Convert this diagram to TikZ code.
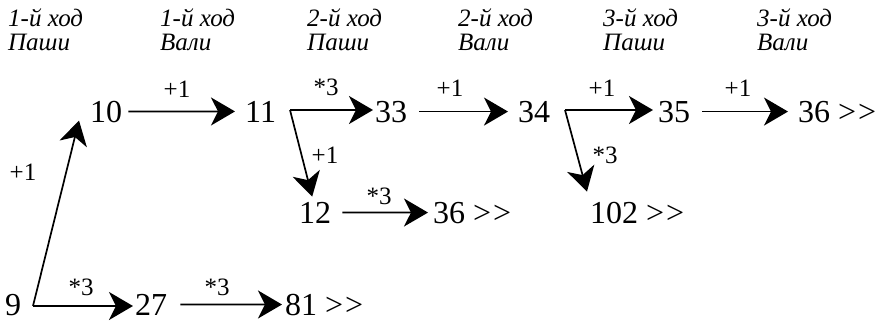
\documentclass[tikz,border=0pt]{standalone}
\usepackage{fontspec}
\setmainfont{Liberation Serif}
\usetikzlibrary{arrows.meta,calc}
\begin{document}
\begin{tikzpicture}[x=1pt,y=-1pt,
  num/.style={anchor=base west,inner sep=0pt,font=\fontsize{32}{32}\selectfont},
  lbl/.style={inner sep=0pt,font=\fontsize{25}{25}\selectfont},
  hdr/.style={anchor=base west,inner sep=0pt,font=\fontsize{25}{25}\selectfont\itshape},
  arr/.style={line width=1.7pt,-{Stealth[length=24pt 0 0,width=28pt 0 0,inset=7pt 0 0]}},
]
\useasboundingbox (0,0) rectangle (886,322);
% headers
\node[hdr] (h1a) at (8,26) {1-й ход};
\node[hdr] (h1b) at (8,50) {Паши};
\node[hdr] (h2a) at (160,26) {1-й ход};
\node[hdr] (h2b) at (160,50) {Вали};
\node[hdr] (h3a) at (307,26) {2-й ход};
\node[hdr] (h3b) at (307,50) {Паши};
\node[hdr] (h4a) at (458,26) {2-й ход};
\node[hdr] (h4b) at (458,50) {Вали};
\node[hdr] (h5a) at (603,26) {3-й ход};
\node[hdr] (h5b) at (603,50) {Паши};
\node[hdr] (h6a) at (757,26) {3-й ход};
\node[hdr] (h6b) at (757,50) {Вали};
% numbers
\node[num] (n10) at (90,122) {10};
\node[num] (n11) at (245,122) {11};
\node[num] (n33) at (375,122) {33};
\node[num] (n34) at (518,122) {34};
\node[num] (n35) at (658,122) {35};
\node[num] (n36a) at (798,122) {36 >\kern2pt>};
\node[num] (n12) at (299,223) {12};
\node[num] (n36b) at (433,223) {36 >\kern2pt>};
\node[num] (n102) at (590,223) {102 >\kern2pt>};
\node[num] (n9) at (5,315) {9};
\node[num] (n27) at (135,315) {27};
\node[num] (n81) at (285,315) {81 >\kern2pt>};
% corners
\coordinate (c9) at (33,306);
\coordinate (c11) at (290,110);
\coordinate (c34) at (565,110);
% connectors
\draw[arr] (c9) -- ($(n10.south west)+(-11,-2)$);
\draw[arr] (c9) -- ($(c9 -| n27.west)+(-2,0)$);
\draw[arr] ([xshift=13pt]n27.east) -- ([xshift=-3pt]n81.west);
\draw[arr] ([xshift=6pt]n10.east) -- ([xshift=-10pt]n11.west);
\draw[arr] (c11) -- ($(c11 -| n33.west)+(-2,0)$);
\draw[arr] (c11) -- ($(n12.north)+(-3,-5)$);
\draw[arr] ([xshift=12pt]n33.east) -- ([xshift=-10pt]n34.west);
\draw[arr] (c34) -- ($(c34 -| n35.west)+(-5,0)$);
\draw[arr] (c34) -- ($(n102.north west)+(-3,-10)$);
\draw[arr] ([xshift=12pt]n35.east) -- ([xshift=-10pt]n36a.west);
\draw[arr] ([xshift=11pt]n12.east) -- ([xshift=-5pt]n36b.west);
% labels
\node[lbl] (l1) at (177,89) {+1};
\node[lbl] (l2) at (326,87) {*3};
\node[lbl] (l3) at (450,88) {+1};
\node[lbl] (l4) at (602,88) {+1};
\node[lbl] (l5) at (738,88) {+1};
\node[lbl] (l6) at (325,155) {+1};
\node[lbl] (l7) at (605,155) {*3};
\node[lbl] (l8) at (379,196) {*3};
\node[lbl] (l9) at (23,172) {+1};
\node[lbl] (l10) at (81,287) {*3};
\node[lbl] (l11) at (217,287) {*3};
\end{tikzpicture}
\end{document}
